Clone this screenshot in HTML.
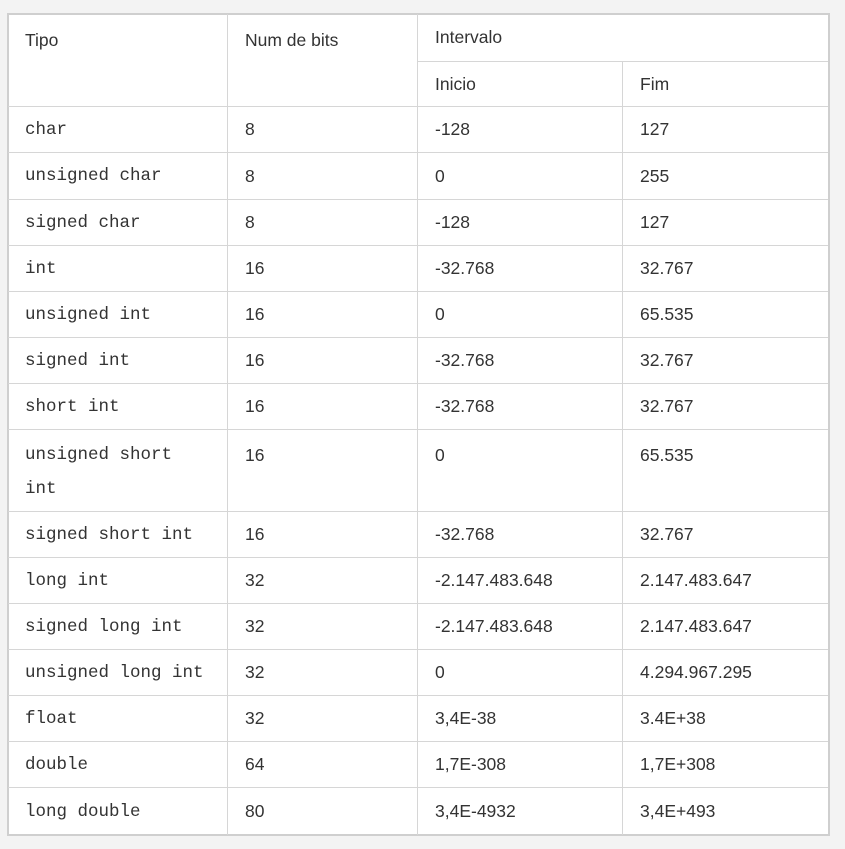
<!DOCTYPE html>
<html><head><meta charset="utf-8"><style>
html,body{margin:0;padding:0;background:#f3f3f3;width:845px;height:849px;overflow:hidden}
#tbl{position:absolute;left:7px;top:13px;width:823px;height:823px;background:#fff;border:2px solid #cfcfcf;box-sizing:border-box}
.c{position:absolute;box-sizing:border-box;border-right:1px solid #d6d6d6;border-bottom:1px solid #d6d6d6;padding-left:17px;display:flex;align-items:center;color:#333;font-family:"Liberation Sans",sans-serif;font-size:17.5px}
.m{font-family:"Liberation Mono",monospace;font-size:17.5px;line-height:34px;color:#333}
</style></head><body>
<div id="tbl"></div>
<script>
const cols=[8,228,418,623,828];
const rowLines=[107,153,200,246,292,338,384,430,512,558,604,650,696,742,788,835];
const tipos=["char","unsigned char","signed char","int","unsigned int","signed int","short int","unsigned short int","signed short int","long int","signed long int","unsigned long int","float","double","long double"];
const bits=["8","8","8","16","16","16","16","16","16","32","32","32","32","64","80"];
const inicio=["-128","0","-128","-32.768","0","-32.768","-32.768","0","-32.768","-2.147.483.648","-2.147.483.648","0","3,4E-38","1,7E-308","3,4E-4932"];
const fim=["127","255","127","32.767","65.535","32.767","32.767","65.535","32.767","2.147.483.647","2.147.483.647","4.294.967.295","3.4E+38","1,7E+308","3,4E+493"];
const T=document.body;
function cell(x0,x1,y0,y1,txt,cls,name,top){
  const d=document.createElement('div');
  d.className='c'+(cls?' '+cls:'');
  d.style.left=x0+'px';d.style.top=y0+'px';d.style.width=(x1-x0)+'px';d.style.height=(y1-y0)+'px';
  if(top){d.style.alignItems='flex-start';d.style.paddingTop=top+'px';}
  d.textContent=txt;
  
  
  T.appendChild(d);return d;
}
cell(cols[0],cols[1],14,107,'Tipo','','header-tipo',16);
cell(cols[1],cols[2],14,107,'Num de bits','','header-num-bits',16);
const iv=cell(cols[2],cols[4],14,62,'Intervalo','','header-intervalo');
iv.style.borderRight='none';
cell(cols[2],cols[3],62,107,'Inicio','','header-inicio');
const f=cell(cols[3],cols[4],62,107,'Fim','','header-fim');f.style.borderRight='none';
for(let i=0;i<tipos.length;i++){
  const y0=rowLines[i],y1=rowLines[i+1];
  const tall=(y1-y0)>60;
  const a=cell(cols[0],cols[1],y0,y1,tipos[i],'m','tipo-cell',tall?8:0);
  if(tipos[i]==='unsigned short int'){a.style.paddingRight='40px';}
  cell(cols[1],cols[2],y0,y1,bits[i],'','bits-cell',tall?15:0);
  cell(cols[2],cols[3],y0,y1,inicio[i],'','inicio-cell',tall?15:0);
  const z=cell(cols[3],cols[4],y0,y1,fim[i],'','fim-cell',tall?15:0);z.style.borderRight='none';
  if(i===tipos.length-1){for(const el of T.querySelectorAll('.c')){if(parseInt(el.style.top)===y0)el.style.borderBottom='none';}}
}
</script>
</body></html>
